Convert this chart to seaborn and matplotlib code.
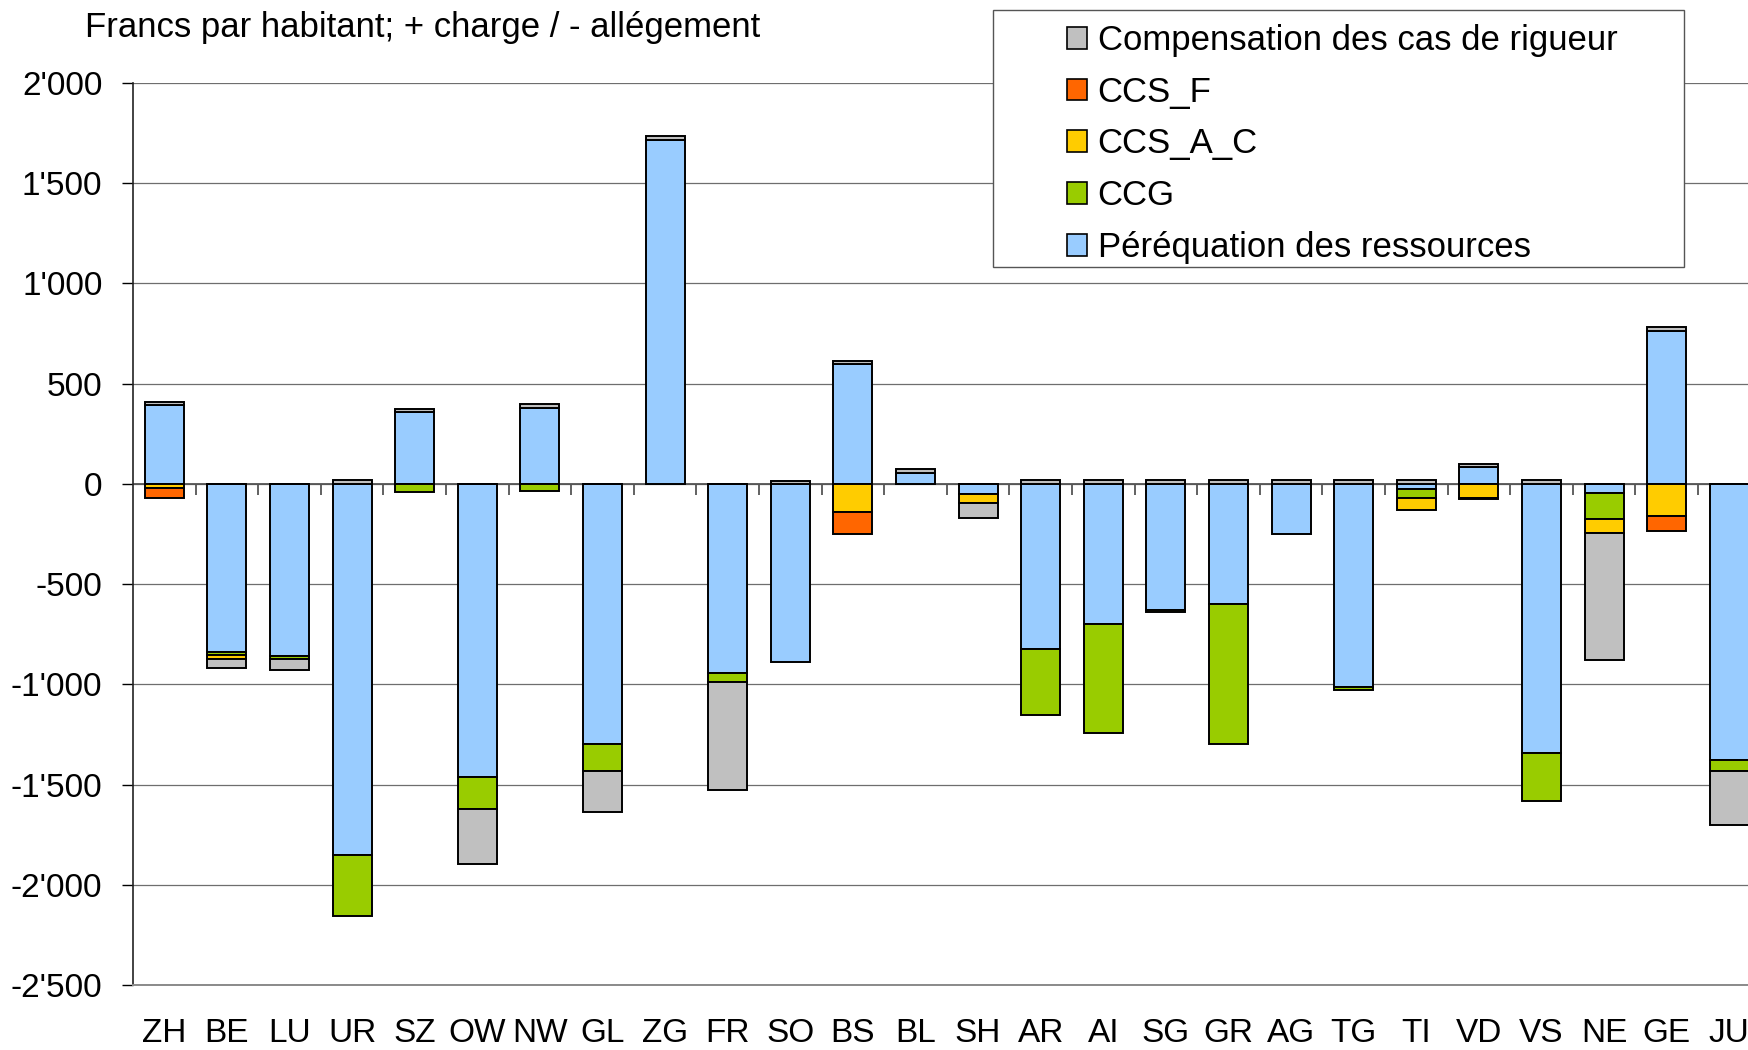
import numpy as np
import pandas as pd
import seaborn as sns
import matplotlib.pyplot as plt
from matplotlib.patches import Patch, Rectangle
from matplotlib.ticker import FuncFormatter, MultipleLocator

sns.set_style("white")
plt.rcParams["font.family"] = ["Liberation Sans", "DejaVu Sans"]
plt.rcParams["text.color"] = "black"

cantons = ["ZH", "BE", "LU", "UR", "SZ", "OW", "NW", "GL", "ZG", "FR", "SO", "BS", "BL",
           "SH", "AR", "AI", "SG", "GR", "AG", "TG", "TI", "VD", "VS", "NE", "GE", "JU"]

# francs par habitant, + charge / - allegement
perequation = [392, -838, -860, -1850, 358, -1460, 378, -1300, 1715, -945, -890, 596, 55,
               -50, -822, -700, -630, -597, -250, -1015, -27, 82, -1345, -45, 765, -1375]
ccg = [0, -15, -15, -305, -40, -160, -35, -133, 0, -45, 0, 0, 0,
       0, -330, -545, -8, -700, 0, -15, -45, 0, -235, -130, 0, -55]
ccs_a_c = [-20, -20, 0, 0, 0, 0, 0, 0, 0, 0, 0, -138, 0,
           -45, 0, 0, 0, 0, 0, 0, -58, -70, 0, -72, -160, 0]
ccs_f = [-52, 0, 0, 0, 0, 0, 0, 0, 0, 0, 0, -112, 0,
         0, 0, 0, 0, 0, 0, 0, 0, -5, 0, 0, -73, 0]
compensation = [17, -45, -55, 18, 18, -275, 20, -202, 20, -535, 15, 17, 20,
                -75, 18, 18, 18, 18, 18, 18, 18, 18, 18, -633, 17, -270]

series = [
    ("Péréquation des ressources", perequation, "#99CCFF"),
    ("CCG", ccg, "#99CC00"),
    ("CCS_A_C", ccs_a_c, "#FFCC00"),
    ("CCS_F", ccs_f, "#FF6600"),
    ("Compensation des cas de rigueur", compensation, "#C0C0C0"),
]

W, H = 1749, 1050
fig = plt.figure(figsize=(W / 100, H / 100), dpi=100)
ax = fig.add_axes([133 / W, 65 / H, 62.6 * 26 / W, 902 / H])

# stacked bars: positives and negatives are piled separately
pos_cum = np.zeros(len(cantons))
neg_cum = np.zeros(len(cantons))
for name, vals, col in series:
    v = np.array(vals, dtype=float)
    bottom = np.where(v >= 0, pos_cum, neg_cum)
    df = pd.DataFrame({"canton": cantons, "value": v})
    sns.barplot(data=df, x="canton", y="value", order=cantons, bottom=bottom,
                color=col, saturation=1, edgecolor="black", linewidth=1.4,
                width=0.62, errorbar=None, ax=ax, zorder=3)
    pos_cum += np.where(v > 0, v, 0)
    neg_cum += np.where(v < 0, v, 0)

ax.set_xlim(-0.5, len(cantons) - 0.5)
ax.set_ylim(-2500, 2000)
ax.yaxis.set_major_locator(MultipleLocator(500))
ax.yaxis.set_major_formatter(FuncFormatter(lambda v, p: f"{int(v):,}".replace(",", "'")))
ax.set_xlabel("")
ax.set_ylabel("")

ax.yaxis.grid(True, color="#6e6e6e", linewidth=0.9)
ax.set_axisbelow(True)
for s in ["top", "right"]:
    ax.spines[s].set_visible(False)
ax.spines["left"].set_color("#222222")
ax.spines["left"].set_linewidth(1.2)
ax.spines["bottom"].set_color("#8a8a8a")
ax.spines["bottom"].set_linewidth(1.4)

ax.tick_params(axis="y", left=True, length=8, width=1, color="black",
               pad=14, labelsize=24, labelcolor="black", direction="out")
ax.tick_params(axis="x", length=0, pad=24, labelsize=24, labelcolor="black")

# category axis drawn at zero with its small tick marks
ax.axhline(0, color="#555555", linewidth=1.3, zorder=2)
ax.vlines(np.arange(len(cantons)) + 0.5, -55, 0, colors="#555555", linewidth=1.3, zorder=2)

fig.text(85 / W, 1 - 28 / H, "Francs par habitant; + charge / - allégement",
         fontsize=25, ha="left", va="center", color="black")

# legend with its own wide frame
frame = Rectangle((993 / W, 1 - 267 / H), 691 / W, 257 / H, transform=fig.transFigure,
                  facecolor="white", edgecolor="#555555", linewidth=1.0, zorder=4)
fig.add_artist(frame)
handles = [Patch(facecolor=col, edgecolor="black", linewidth=1.2, label=name)
           for name, vals, col in series[::-1]]
leg = fig.legend(handles=handles, loc="upper left", bbox_to_anchor=(1067 / W, 1 - 24 / H),
                 frameon=False, fontsize=25, handlelength=0.58, handleheight=0.58,
                 handletextpad=0.3, labelspacing=0.54, borderpad=0, borderaxespad=0)
for t in leg.get_texts():
    t.set_color("black")

fig.savefig("out.png", dpi=100)
